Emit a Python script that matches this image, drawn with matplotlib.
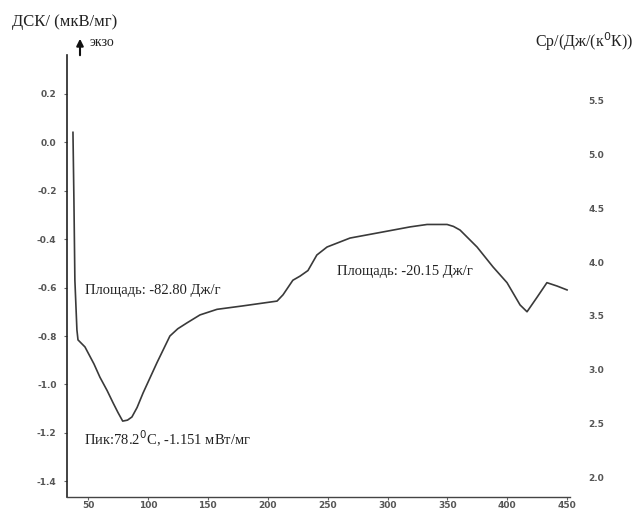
import matplotlib
matplotlib.use("Agg")
import matplotlib.pyplot as plt

# Temperature (°C) and DSC signal (mW/mg)
temperature = [37.5, 38.3, 39.1, 40.8, 41.7, 47.5, 55, 60, 66, 71, 75, 79, 83, 86.7,
               91, 96, 107.6, 118.4, 125, 132.6, 143.5, 157.7, 179, 207.8, 212.8,
               221, 227, 233.6, 241, 249.5, 268.7, 296, 318.8, 333, 349.7, 355,
               360.5, 374.7, 388, 399.7, 410.6, 416.4, 424.8, 433, 441.5, 449.8]
dsc = [0.04, -0.24, -0.57, -0.775, -0.816, -0.845, -0.915, -0.97, -1.025, -1.076,
       -1.115, -1.151, -1.147, -1.134, -1.095, -1.035, -0.91, -0.80, -0.77, -0.746,
       -0.713, -0.69, -0.676, -0.656, -0.63, -0.57, -0.553, -0.53, -0.466, -0.433,
       -0.396, -0.371, -0.35, -0.34, -0.34, -0.348, -0.363, -0.433, -0.515, -0.58,
       -0.672, -0.70, -0.64, -0.58, -0.594, -0.61]

x_ticks = [50, 100, 150, 200, 250, 300, 350, 400, 450]
left_ticks = [0.2, 0.0, -0.2, -0.4, -0.6, -0.8, -1.0, -1.2, -1.4]
right_ticks = [5.5, 5.0, 4.5, 4.0, 3.5, 3.0, 2.5, 2.0]

serif = ["Liberation Serif", "DejaVu Serif"]
tick_color = "#555555"

fig = plt.figure(figsize=(6.36, 5.13), dpi=100)
ax = fig.add_axes([0.1053, 0.0312, 0.7910, 0.8616])
ax.plot(temperature, dsc, color="#3a3a3a", lw=1.2)
ax.set_xlim(32.5, 452.3)
ax.set_ylim(-1.464, 0.359)

for s in ["top", "right"]:
    ax.spines[s].set_visible(False)
ax.spines["left"].set_color("#222222")
ax.spines["left"].set_linewidth(1.2)
ax.spines["bottom"].set_color("#444444")
ax.spines["bottom"].set_linewidth(1.0)

ax.set_xticks(x_ticks)
ax.set_xticklabels([str(t) for t in x_ticks])
ax.set_yticks(left_ticks)
ax.set_yticklabels([f"{t:.1f}" for t in left_ticks])
ax.tick_params(axis="y", length=2.5, width=0.8, color="#666666",
               labelsize=6.5, labelcolor=tick_color, pad=5)
ax.tick_params(axis="x", length=2, width=0.8, color="#666666",
               labelsize=6.5, labelcolor=tick_color, pad=1)
for lab in ax.get_xticklabels() + ax.get_yticklabels():
    lab.set_fontweight("bold")

ax2 = ax.twinx()
ax2.set_ylim(1.814, 5.926)
for s in ax2.spines.values():
    s.set_visible(False)
ax2.set_yticks(right_ticks)
ax2.set_yticklabels([f"{t:.1f}" for t in right_ticks])
ax2.tick_params(axis="y", length=0, labelsize=6.5, labelcolor=tick_color, pad=13)
for lab in ax2.get_yticklabels():
    lab.set_fontweight("bold")

# Titles / axis labels as figure text
fig.text(12/636, 1 - 22/513, "ДСК/ (мкВ/мг)", family=serif, fontsize=12,
         color="#222222", ha="left", va="center")
fig.text(90/636, 1 - 42/513, "экзо", family=serif, fontsize=10,
         color="#222222", ha="left", va="center")
fig.text(535/636, 1 - 42/513, "Cp/(Дж/(к$^0$К))", family=serif, fontsize=11.5,
         color="#222222", ha="left", va="center")
fig.patches.append(matplotlib.patches.FancyArrowPatch(
    (80/636, 1 - 58/513), (80/636, 1 - 36/513), transform=fig.transFigure,
    arrowstyle="-|>", mutation_scale=10, color="#111111", lw=1.5))

ax.text(47.5, -0.614, "Площадь: -82.80 Дж/г", family=serif, fontsize=10.5,
        color="#222222", ha="left", va="center")
ax.text(257.8, -0.536, "Площадь: -20.15 Дж/г", family=serif, fontsize=10.5,
        color="#222222", ha="left", va="center")
fig.text(84/636, 1 - 439/513, "Пик:78.2$^0$C, -1.151 мВт/мг", family=serif,
         fontsize=10.5, color="#222222", ha="left", va="center")

fig.savefig("out.png", dpi=100)
